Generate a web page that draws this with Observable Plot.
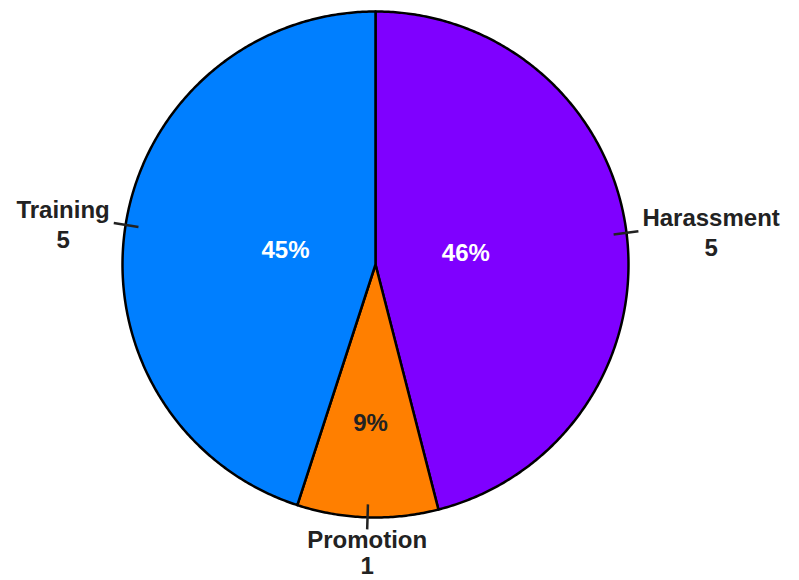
<!DOCTYPE html>
<html>
<head>
<meta charset="utf-8">
<script src="https://cdn.jsdelivr.net/npm/d3@7"></script>
<script src="https://cdn.jsdelivr.net/npm/@observablehq/plot@0.6"></script>
<style>
  html, body { margin: 0; padding: 0; background: #fff; }
</style>
</head>
<body>
<div id="chart"></div>
<script>
// ---- data ----
const categories = ["Harassment", "Promotion", "Training"];
const counts = [5, 1, 5];
const shares = [46, 9, 45];          // percent of the pie
const colors = ["#7f00ff", "#ff7f00", "#007fff"];

// ---- layout ----
const W = 799, H = 580;
const CX = 375, CY = 264, R = 253;     // pixel centre and radius
const FONT = "'Liberation Sans', Arial, Helvetica, sans-serif";
const FS = 24;
const TEXT = "#222";

const arcs = d3.pie().sort(null).value(d => d)(shares);
const pt = (a, r) => ({x: r * Math.sin(a), y: r * Math.cos(a)}); // unit coords, y up, clockwise from top

// slice polygons
const polys = arcs.map((a, i) => {
  const pts = [{x: 0, y: 0}];
  const n = Math.max(8, Math.ceil((a.endAngle - a.startAngle) / (Math.PI / 360)));
  for (let k = 0; k <= n; k++) pts.push(pt(a.startAngle + (a.endAngle - a.startAngle) * k / n, 1));
  pts.push({x: 0, y: 0});
  return pts;
});

// percent labels
const pctData = arcs.map((a, i) => {
  const mid = (a.startAngle + a.endAngle) / 2;
  const frac = shares[i] / d3.sum(shares);
  const p = pt(mid, frac > 0.25 ? 0.36 : 0.63);
  const dark = d3.lab(colors[i]).l > 60;
  return {...p, text: shares[i] + "%", fill: dark ? TEXT : "#ffffff"};
});

// ticks + outside labels
const ctx = document.createElement("canvas").getContext("2d");
ctx.font = `bold ${FS}px ${FONT}`;
const tickIn = (R - 13) / R, tickOut = (R + 12) / R;
const ticks = arcs.map(a => {
  const mid = (a.startAngle + a.endAngle) / 2;
  const p1 = pt(mid, tickIn), p2 = pt(mid, tickOut);
  return {x1: p1.x, y1: p1.y, x2: p2.x, y2: p2.y, mid};
});
const sideLabels = [], bottomLabels = [];
arcs.forEach((a, i) => {
  const t = ticks[i];
  const text = categories[i] + "\n" + counts[i];
  const w = Math.max(ctx.measureText(categories[i]).width, ctx.measureText(String(counts[i])).width);
  const s = Math.sin(t.mid), c = Math.cos(t.mid);
  if (Math.abs(s) >= Math.abs(c)) {
    const gap = 4;
    sideLabels.push({x: t.x2 + Math.sign(s) * (gap + w / 2) / R, y: t.y2, text});
  } else {
    bottomLabels.push({x: t.x2, y: t.y2, text});
  }
});

const chart = Plot.plot({
  width: W,
  height: H,
  margin: 0,
  x: {domain: [-CX / R, (W - CX) / R], axis: null},
  y: {domain: [-(H - CY) / R, CY / R], axis: null},
  color: {type: "identity"},
  style: {fontFamily: FONT, background: "#fff", overflow: "visible"},
  marks: [
    ...polys.map((p, i) => Plot.line(p, {
      x: "x", y: "y", fill: colors[i], stroke: "#000", strokeWidth: 2.5,
      strokeLinejoin: "round", curve: "linear"
    })),
    Plot.link(ticks, {x1: "x1", y1: "y1", x2: "x2", y2: "y2", stroke: TEXT, strokeWidth: 2.5}),
    Plot.text(pctData, {x: "x", y: "y", text: "text", fill: "fill", fontSize: FS, fontWeight: "bold"}),
    Plot.text(sideLabels, {x: "x", y: "y", text: "text", fill: TEXT, fontSize: FS, fontWeight: "bold",
      textAnchor: "middle", lineAnchor: "middle", lineHeight: 1.25}),
    Plot.text(bottomLabels, {x: "x", y: "y", text: "text", fill: TEXT, fontSize: FS, fontWeight: "bold",
      textAnchor: "middle", lineAnchor: "top", lineHeight: 1.08})
  ]
});
document.getElementById("chart").appendChild(chart);
</script>
</body>
</html>
